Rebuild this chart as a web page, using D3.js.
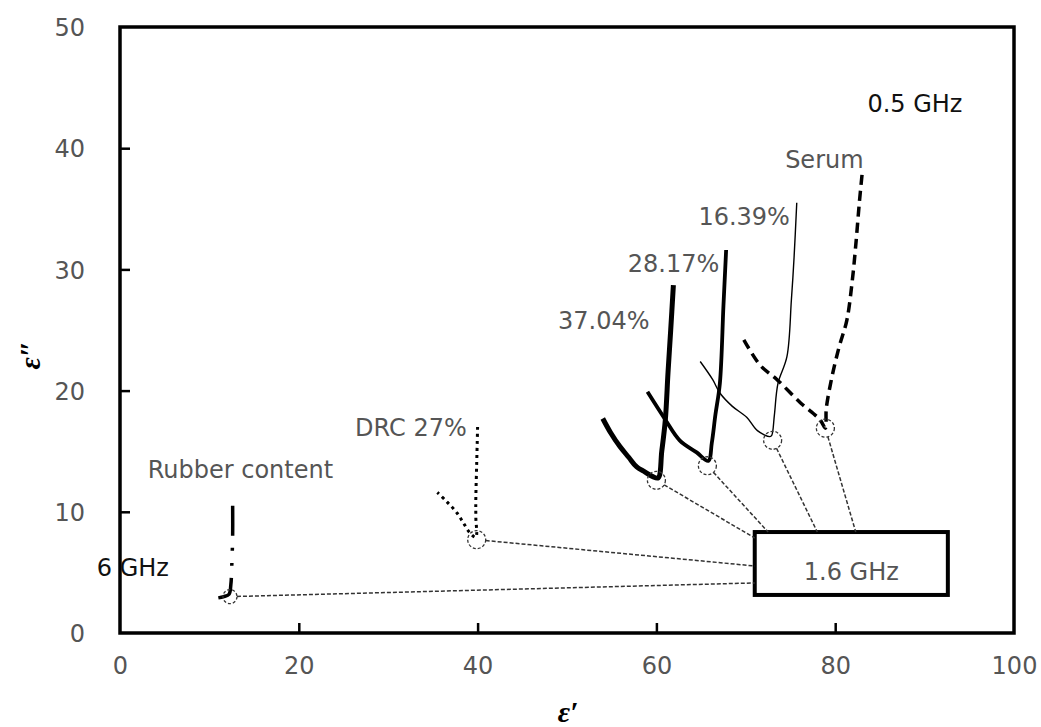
<!DOCTYPE html>
<html><head><meta charset="utf-8">
<script src="https://cdn.jsdelivr.net/npm/d3@7"></script>
<style>body{margin:0;background:#fff}svg{display:block}</style>
</head><body>
<script>
// ---- data (eps' , eps''); ordered 0.5 GHz -> 1.6 GHz -> 6 GHz ----
const seriesNames = ["Serum", "16.39%", "28.17%", "37.04%", "DRC 27%", "Rubber content"];
const serumX = [83.0, 82.7, 82.3, 81.9, 81.3, 80.4, 79.6, 79.0, 78.9, 78.3, 76.1, 73.5, 71.6, 69.7];
const serumY = [37.8, 35.5, 32.0, 29.0, 25.8, 23.5, 21.0, 18.5, 16.9, 17.6, 19.0, 20.9, 22.1, 24.3];
const p1639X = [75.7, 75.4, 75.1, 74.6, 73.6, 73.2, 72.9, 72.7, 71.3, 70.1, 68.5, 67.1, 66.3, 64.9];
const p1639Y = [35.5, 31.0, 27.5, 22.8, 20.6, 18.0, 16.3, 16.2, 16.7, 17.8, 18.7, 19.8, 20.9, 22.4];
const p2817X = [67.8, 67.5, 67.1, 66.6, 66.2, 65.8, 64.5, 62.6, 61.0, 59.0];
const p2817Y = [31.6, 27.0, 20.6, 18.0, 15.7, 14.2, 14.9, 15.9, 17.6, 19.9];
const p3704X = [61.9, 61.6, 61.3, 61.0, 60.6, 60.2, 59.6, 58.7, 57.8, 56.9, 55.9, 54.9, 54.0];
const p3704Y = [28.7, 25.0, 21.5, 17.6, 15.0, 12.8, 12.9, 13.3, 13.7, 14.5, 15.4, 16.5, 17.7];
const drcX = [40.0, 39.9, 39.8, 39.8, 39.8, 39.1, 38.4, 37.7, 36.6, 35.5];
const drcY = [17.0, 14.0, 11.0, 9.6, 7.9, 8.3, 9.1, 9.9, 10.8, 11.6];
const rubberX = [12.6, 12.6, 12.5, 12.4, 12.2, 11.6, 11.0];
const rubberY = [10.5, 8.0, 5.5, 4.0, 3.2, 3.0, 2.9];
// 1.6 GHz points (circled) and where their leader lines meet the "1.6 GHz" box
const markX = [78.9, 73.0, 65.7, 60.0, 39.9, 12.3];
const markY = [16.9, 15.9, 13.8, 12.6, 7.7, 3.0];
const leadX = [82.3, 78.0, 72.5, 71.0, 71.0, 71.0];
const leadY = [8.33, 8.33, 8.33, 7.84, 5.53, 4.13];
const xTicks = [0, 20, 40, 60, 80, 100];
const yTicks = [0, 10, 20, 30, 40, 50];

const W = 1041, H = 727;
const M = {l: 120, r: 1041 - 1014, t: 27, b: 727 - 633};
const svg = d3.select("body").append("svg").attr("width", W).attr("height", H);
const x = d3.scaleLinear().domain([0, 100]).range([M.l, W - M.r]);
const y = d3.scaleLinear().domain([0, 50]).range([H - M.b, M.t]);

const font = "'DejaVu Sans', Verdana, sans-serif";
const gray = "#555";

// axes (ticks inside)
const gx = svg.append("g").attr("transform", `translate(0,${y(0)})`)
  .call(d3.axisBottom(x).tickValues(xTicks).tickSizeInner(-10).tickSizeOuter(0).tickPadding(24));
const gy = svg.append("g").attr("transform", `translate(${x(0)},0)`)
  .call(d3.axisLeft(y).tickValues(yTicks).tickSizeInner(-10).tickSizeOuter(0).tickPadding(35));
[gx, gy].forEach(g => {
  g.select(".domain").remove();
  g.selectAll(".tick line").attr("stroke", "#000").attr("stroke-width", 2.5);
  g.selectAll(".tick text").attr("font-family", font).attr("font-size", 24).attr("fill", gray);
});
gx.selectAll(".tick").filter(d => d === 0 || d === 100).select("line").remove();
gy.selectAll(".tick").filter(d => d === 0 || d === 50).select("line").remove();
gy.selectAll(".tick text").attr("dy", "0.36em");

// frame
svg.append("rect").attr("x", x(0)).attr("y", y(50)).attr("width", x(100) - x(0)).attr("height", y(0) - y(50))
  .attr("fill", "none").attr("stroke", "#000").attr("stroke-width", 3.5);

// series
const seriesX = [serumX, p1639X, p2817X, p3704X, drcX, rubberX];
const seriesY = [serumY, p1639Y, p2817Y, p3704Y, drcY, rubberY];
const styles = [
  {w: 3.5, dash: "10,6"},
  {w: 1.4, dash: null},
  {w: 3.8, dash: null},
  {w: 5, dash: null},
  {w: 3, dash: "3,4"},
  {w: 3.5, dash: "30,12,3,12,3,12"}
];
const line = d3.line().x(d => x(d[0])).y(d => y(d[1])).curve(d3.curveCatmullRom.alpha(0.5));
seriesNames.forEach((n, i) => {
  const pts = seriesX[i].map((v, k) => [v, seriesY[i][k]]);
  svg.append("path").datum(pts).attr("d", line).attr("fill", "none").attr("stroke", "#000")
    .attr("stroke-width", styles[i].w).attr("stroke-linejoin", "round")
    .attr("stroke-dasharray", styles[i].dash);
});

// box
const bx0 = 71.0, bx1 = 92.6, by0 = 8.33, by1 = 3.14;
svg.append("rect").attr("x", x(bx0)).attr("y", y(by0)).attr("width", x(bx1) - x(bx0)).attr("height", y(by1) - y(by0))
  .attr("fill", "#fff").attr("stroke", "#000").attr("stroke-width", 4);
svg.append("text").attr("x", (x(bx0) + x(bx1)) / 2).attr("y", y(by1) - 15).attr("text-anchor", "middle")
  .attr("font-family", font).attr("font-size", 24).attr("fill", gray).text("1.6 GHz");

// circles and leaders
markX.forEach((mx, i) => {
  const r = i === 5 ? 7 : 9;
  const cx = x(mx), cy = y(markY[i]);
  const ex = x(leadX[i]), ey = y(leadY[i]);
  const len = Math.hypot(ex - cx, ey - cy);
  svg.append("circle").attr("cx", cx).attr("cy", cy).attr("r", r)
    .attr("fill", "none").attr("stroke", "#333").attr("stroke-width", 1.3).attr("stroke-dasharray", "3,2");
  svg.append("line").attr("x1", cx + (ex - cx) / len * r).attr("y1", cy + (ey - cy) / len * r)
    .attr("x2", ex).attr("y2", ey)
    .attr("stroke", "#333").attr("stroke-width", 1.5).attr("stroke-dasharray", "4,2");
});

// labels
const labels = [
  {t: "0.5 GHz", x: 83.6, y: 43.0, c: "#111"},
  {t: "Serum", x: 74.4, y: 38.4, c: gray},
  {t: "16.39%", x: 64.7, y: 33.7, c: gray},
  {t: "28.17%", x: 56.8, y: 29.8, c: gray},
  {t: "37.04%", x: 49.0, y: 25.1, c: gray},
  {t: "DRC 27%", x: 26.3, y: 16.25, c: gray},
  {t: "Rubber content", x: 3.1, y: 12.8, c: gray},
  {t: "6 GHz", x: -2.6, y: 4.7, c: "#111"}
];
labels.forEach(l => {
  svg.append("text").attr("x", x(l.x)).attr("y", y(l.y)).attr("font-family", font)
    .attr("font-size", 24).attr("fill", l.c).text(l.t);
});

// axis titles
svg.append("text").attr("x", 568).attr("y", 722).attr("text-anchor", "middle")
  .attr("font-family", "'Liberation Serif', 'DejaVu Serif', serif").attr("font-style", "italic")
  .attr("font-weight", "bold").attr("font-size", 30).text("ε′");
svg.append("text").attr("transform", "translate(40,355) rotate(-90)").attr("text-anchor", "middle")
  .attr("font-family", "'Liberation Serif', 'DejaVu Serif', serif").attr("font-style", "italic")
  .attr("font-weight", "bold").attr("font-size", 30).text("ε″");
</script>
</body></html>
